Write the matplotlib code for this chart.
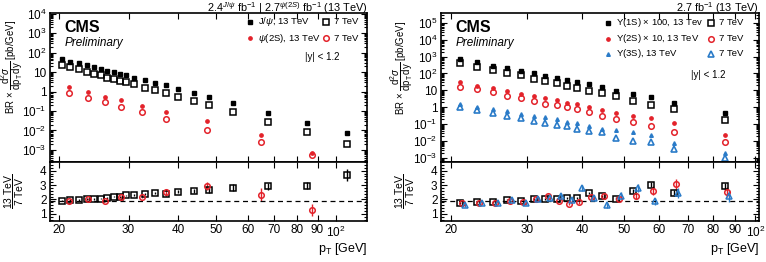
import numpy as np
import matplotlib
matplotlib.use("Agg")
import matplotlib.pyplot as plt
from matplotlib.ticker import FixedLocator, NullLocator, LogLocator, NullFormatter, MultipleLocator

plt.rcParams['font.family'] = ['Liberation Sans', 'DejaVu Sans']
plt.rcParams['mathtext.fontset'] = 'custom'
plt.rcParams['mathtext.rm'] = 'Liberation Sans'
plt.rcParams['mathtext.it'] = 'Liberation Sans:italic'
plt.rcParams['mathtext.bf'] = 'Liberation Sans:bold'

RED = '#e3222a'
BLUE = '#2a7bc8'

# ---- left panel: J/psi and psi(2S)
jpsi_pt = [20.4, 21.4, 22.5, 23.5, 24.5, 25.5, 26.5, 27.5, 28.5, 29.5, 31, 33, 35, 37.2,
           40, 43.9, 47.9, 54.9, 67.3, 84.7, 107]
jpsi_13 = [46, 35, 28, 22, 18, 14.8, 11.7, 10, 8.2, 6.8, 5.1, 3.75, 2.8, 2.08,
           1.39, 0.81, 0.5, 0.257, 0.082, 0.024, 0.0074]
jpsi_7 = [22.9, 18, 13.7, 10.8, 8.5, 7.0, 5.3, 4.37, 3.6, 2.95, 2.33, 1.57, 1.19, 0.84,
          0.54, 0.326, 0.195, 0.089, 0.027, 0.0083, 0.002]
jpsi_ratio = [1.92, 1.95, 1.97, 2.02, 2.04, 2.06, 2.11, 2.2, 2.18, 2.29, 2.29, 2.39, 2.43, 2.37,
              2.55, 2.57, 2.64, 2.82, 2.92, 2.96, 3.7]
jpsi_ratio_err = [0.05, 0.05, 0.05, 0.05, 0.05, 0.05, 0.05, 0.05, 0.05, 0.05, 0.06, 0.07, 0.08, 0.1,
                  0.12, 0.15, 0.18, 0.22, 0.25, 0.25, 0.4]

psi2s_pt = [21.2, 23.7, 26.2, 28.7, 32.5, 37.4, 47.4, 64.7, 87.2]
psi2s_13 = [1.7, 0.98, 0.52, 0.37, 0.19, 0.089, 0.03, 0.0056, 0.00072]
psi2s_7 = [0.87, 0.46, 0.28, 0.166, 0.086, 0.037, 0.0106, 0.0025, 0.00058]
psi2s_ratio = [1.92, 2.02, 1.9, 2.15, 2.2, 2.5, 2.92, 2.34, 1.25]
psi2s_ratio_err = [0.07, 0.08, 0.08, 0.1, 0.12, 0.2, 0.3, 0.45, 0.4]

# ---- right panel: Upsilon(nS)
ups_pt = [21, 23, 25, 27, 29, 31, 33, 35, 37, 39, 41.5, 44.5, 48, 52.5, 57.5, 65, 85]
ups1_13 = [690, 459, 290, 212, 148, 107, 74, 56, 40, 30, 24, 15.2, 9.6, 5.9, 3.9, 1.9, 0.48]
ups1_7 = [400, 252, 167, 102, 78, 49.5, 37.6, 26.3, 19.1, 13.9, 9.6, 6.7, 4.7, 2.46, 1.37, 0.76, 0.178]
ups2_13 = [30, 18.2, 13.3, 9.6, 6.4, 4.9, 3.55, 2.83, 1.8, 1.5, 1.09, 0.69, 0.44, 0.31, 0.23, 0.113, 0.023]
ups2_7 = [16.6, 11.6, 7.7, 4.9, 3.55, 2.46, 1.63, 1.43, 1.0, 0.83, 0.53, 0.32, 0.21, 0.135, 0.082, 0.036, 0.0092]
ups3_13 = [1.5, 1.09, 0.76, 0.6, 0.4, 0.31, 0.26, 0.195, 0.135, 0.123, 0.079, 0.05, 0.045, 0.033, 0.023, 0.0074, 0.0019]
ups3_7 = [1.0, 0.72, 0.48, 0.32, 0.24, 0.16, 0.123, 0.093, 0.079, 0.05, 0.04, 0.033, 0.016, 0.0102, 0.0089, 0.0034, 0.001]

ups1_ratio = [1.76, 1.83, 1.81, 1.99, 1.92, 2.04, 2.04, 2.06, 2.09, 2.09, 2.45, 2.22, 2.06, 2.57, 3.03, 2.45, 2.92]
ups1_ratio_err = [0.05, 0.05, 0.05, 0.05, 0.05, 0.05, 0.06, 0.06, 0.07, 0.07, 0.1, 0.1, 0.1, 0.15, 0.2, 0.18, 0.25]
ups2_ratio = [1.72, 1.76, 1.76, 1.92, 1.8, 2.04, 2.25, 1.92, 1.7, 1.81, 2.15, 2.25, 2.05, 2.22, 2.6, 3.1, 2.52]
ups2_ratio_err = [0.08, 0.08, 0.08, 0.08, 0.08, 0.1, 0.12, 0.12, 0.12, 0.12, 0.15, 0.15, 0.15, 0.2, 0.3, 0.35, 0.35]
ups3_ratio = [1.6, 1.76, 1.76, 1.95, 1.76, 2.04, 2.1, 2.22, 1.95, 2.8, 2.1, 1.58, 2.27, 2.8, 1.88, 2.45, 2.25]
ups3_ratio_err = [0.1, 0.1, 0.1, 0.1, 0.12, 0.12, 0.15, 0.15, 0.15, 0.2, 0.2, 0.2, 0.25, 0.3, 0.25, 0.35, 0.4]

ratio_line = 1.87

W, H = 766, 262
fig = plt.figure(figsize=(W / 100, H / 100), dpi=100)

def box(x0, x1, y0, y1):
    return [x0 / W, 1 - y1 / H, (x1 - x0) / W, (y1 - y0) / H]

axL = fig.add_axes(box(50, 367, 13, 162))
axLr = fig.add_axes(box(50, 367, 162, 221))
axR = fig.add_axes(box(441, 759, 13, 162))
axRr = fig.add_axes(box(441, 759, 162, 221))

def pow_label(e):
    if e == 0:
        return '1'
    if e == 1:
        return '10'
    return r'$10^{%d}$' % e

xt = [20, 30, 40, 50, 60, 70, 80, 90, 100]
xtl = ['20', '30', '40', '50', '60', '70', '80', '90', r'$10^{2}$']

def style(ax, xlim, ratio=False, ylim=None, exps=None):
    ax.set_xscale('log')
    ax.set_xlim(*xlim)
    ax.xaxis.set_major_locator(FixedLocator(xt))
    ax.xaxis.set_minor_locator(NullLocator())
    ax.tick_params(which='both', direction='in', top=True, right=True, labelsize=8.5,
                   width=0.8, pad=2.5)
    ax.tick_params(which='major', length=4)
    ax.tick_params(which='minor', length=2)
    for s in ax.spines.values():
        s.set_linewidth(1.2)
    if ratio:
        ax.set_xticklabels(xtl)
        ax.set_ylim(0.5, 4.6)
        ax.yaxis.set_major_locator(FixedLocator([1, 2, 3, 4]))
        ax.yaxis.set_minor_locator(MultipleLocator(0.2))
        ax.axhline(ratio_line, color='black', ls=(0, (4, 3)), lw=0.9)
        ax.set_ylabel(r'$\dfrac{13\ \mathrm{TeV}}{7\ \mathrm{TeV}}$', fontsize=7.5)
        ax.yaxis.set_label_coords(-0.075, 0.5)
        ax.set_xlabel(r'p$_{\mathrm{T}}$ [GeV]', loc='right', fontsize=9, labelpad=1)
    else:
        ax.set_xticklabels([])
        ax.set_yscale('log')
        ax.set_ylim(*ylim)
        ax.yaxis.set_major_locator(FixedLocator([10.0 ** e for e in exps]))
        ax.set_yticklabels([pow_label(e) for e in exps])
        ax.yaxis.set_minor_locator(LogLocator(base=10, subs=np.arange(2, 10), numticks=30))
        ax.yaxis.set_minor_formatter(NullFormatter())
        ax.set_ylabel(r'BR $\times\ \dfrac{\mathrm{d}^{2}\sigma}{\mathrm{dp_{T}\,dy}}$ [pb/GeV]',
                      fontsize=6.9)
        ax.text(0.045, 0.9, 'CMS', transform=ax.transAxes, fontsize=11.5, fontweight='bold',
                ha='left', va='center')
        ax.text(0.045, 0.8, 'Preliminary', transform=ax.transAxes, fontsize=8.5,
                style='italic', ha='left', va='center')

def legend_entry(ax, x, y, label, **kw):
    ax.plot([x], [y], transform=ax.transAxes, clip_on=False, ls='none', **kw)
    ax.text(x + 0.025, y, label, transform=ax.transAxes, fontsize=6.8, ha='left', va='center')

sq13 = dict(marker='s', color='black', ms=2.6)
sq7 = dict(marker='s', mfc='none', mec='black', mew=1.1, ms=4)
ci13 = dict(marker='o', color=RED, ms=2.4)
ci7 = dict(marker='o', mfc='none', mec=RED, mew=1.1, ms=4)
tr13 = dict(marker='^', color=BLUE, ms=2.6)
tr7 = dict(marker='^', mfc='none', mec=BLUE, mew=1.2, ms=4.2)

# ---- left top
axL.plot(jpsi_pt, jpsi_13, ls='none', **sq13)
axL.plot(jpsi_pt, jpsi_7, ls='none', **sq7)
axL.plot(psi2s_pt, psi2s_13, ls='none', **ci13)
axL.plot(psi2s_pt, psi2s_7, ls='none', **ci7)
style(axL, (19, 120), ylim=(2.4e-4, 1.1e4), exps=[-3, -2, -1, 0, 1, 2, 3, 4])
axL.yaxis.set_label_coords(-0.08, 0.64)
legend_entry(axL, 0.631, 0.94, r'J/$\psi$, 13 TeV', **sq13)
legend_entry(axL, 0.871, 0.94, '7 TeV', **sq7)
legend_entry(axL, 0.631, 0.83, r'$\psi$(2S), 13 TeV', **ci13)
legend_entry(axL, 0.871, 0.83, '7 TeV', **ci7)
axL.text(0.858, 0.705, '|y| < 1.2', transform=axL.transAxes, fontsize=7, ha='center', va='center')
fig.text(367 / W, 0.998, r'2.4$^{J/\psi}$ fb$^{-1}$ | 2.7$^{\psi(2S)}$ fb$^{-1}$ (13 TeV)',
         ha='right', va='top', fontsize=7.8)

# ---- left ratio
axLr.errorbar(jpsi_pt, jpsi_ratio, yerr=jpsi_ratio_err, fmt='s', mfc='none', mec='black',
              ecolor='black', mew=1.1, ms=4, elinewidth=1, capsize=0)
axLr.errorbar(psi2s_pt, psi2s_ratio, yerr=psi2s_ratio_err, fmt='o', mfc='none', mec=RED,
              ecolor=RED, mew=1.1, ms=4, elinewidth=1, capsize=0)
style(axLr, (19, 120), ratio=True)

# ---- right top
axR.plot(ups_pt, ups1_13, ls='none', **sq13)
axR.plot(ups_pt, ups1_7, ls='none', **sq7)
axR.plot(ups_pt, ups2_13, ls='none', **ci13)
axR.plot(ups_pt, ups2_7, ls='none', **ci7)
axR.plot(ups_pt, ups3_13, ls='none', **tr13)
axR.plot(ups_pt, ups3_7, ls='none', **tr7)
style(axR, (19, 102), ylim=(5.8e-4, 3.8e5), exps=[-3, -2, -1, 0, 1, 2, 3, 4, 5])
axR.yaxis.set_label_coords(-0.082, 0.63)
legend_entry(axR, 0.525, 0.933, r'$\Upsilon$(1S) $\times$ 100, 13 Tev', **sq13)
legend_entry(axR, 0.849, 0.933, '7 TeV', **sq7)
legend_entry(axR, 0.525, 0.826, r'$\Upsilon$(2S) $\times$ 10, 13 TeV', **ci13)
legend_entry(axR, 0.849, 0.826, '7 TeV', **ci7)
legend_entry(axR, 0.525, 0.725, r'$\Upsilon$(3S), 13 TeV', **tr13)
legend_entry(axR, 0.849, 0.725, '7 TeV', **tr7)
axR.text(0.84, 0.584, '|y| < 1.2', transform=axR.transAxes, fontsize=7, ha='center', va='center')
fig.text(759 / W, 0.998, r'2.7 fb$^{-1}$ (13 TeV)', ha='right', va='top', fontsize=7.8)

# ---- right ratio
axRr.errorbar(ups_pt, ups1_ratio, yerr=ups1_ratio_err, fmt='s', mfc='none', mec='black',
              ecolor='black', mew=1.1, ms=4, elinewidth=1, capsize=0)
axRr.errorbar(np.array(ups_pt) * 1.012, ups2_ratio, yerr=ups2_ratio_err, fmt='o', mfc='none',
              mec=RED, ecolor=RED, mew=1.1, ms=4, elinewidth=1, capsize=0)
axRr.errorbar(np.array(ups_pt) * 1.025, ups3_ratio, yerr=ups3_ratio_err, fmt='^', mfc='none',
              mec=BLUE, ecolor=BLUE, mew=1.1, ms=4, elinewidth=1, capsize=0)
style(axRr, (19, 102), ratio=True)

fig.savefig('out.png', dpi=100)
